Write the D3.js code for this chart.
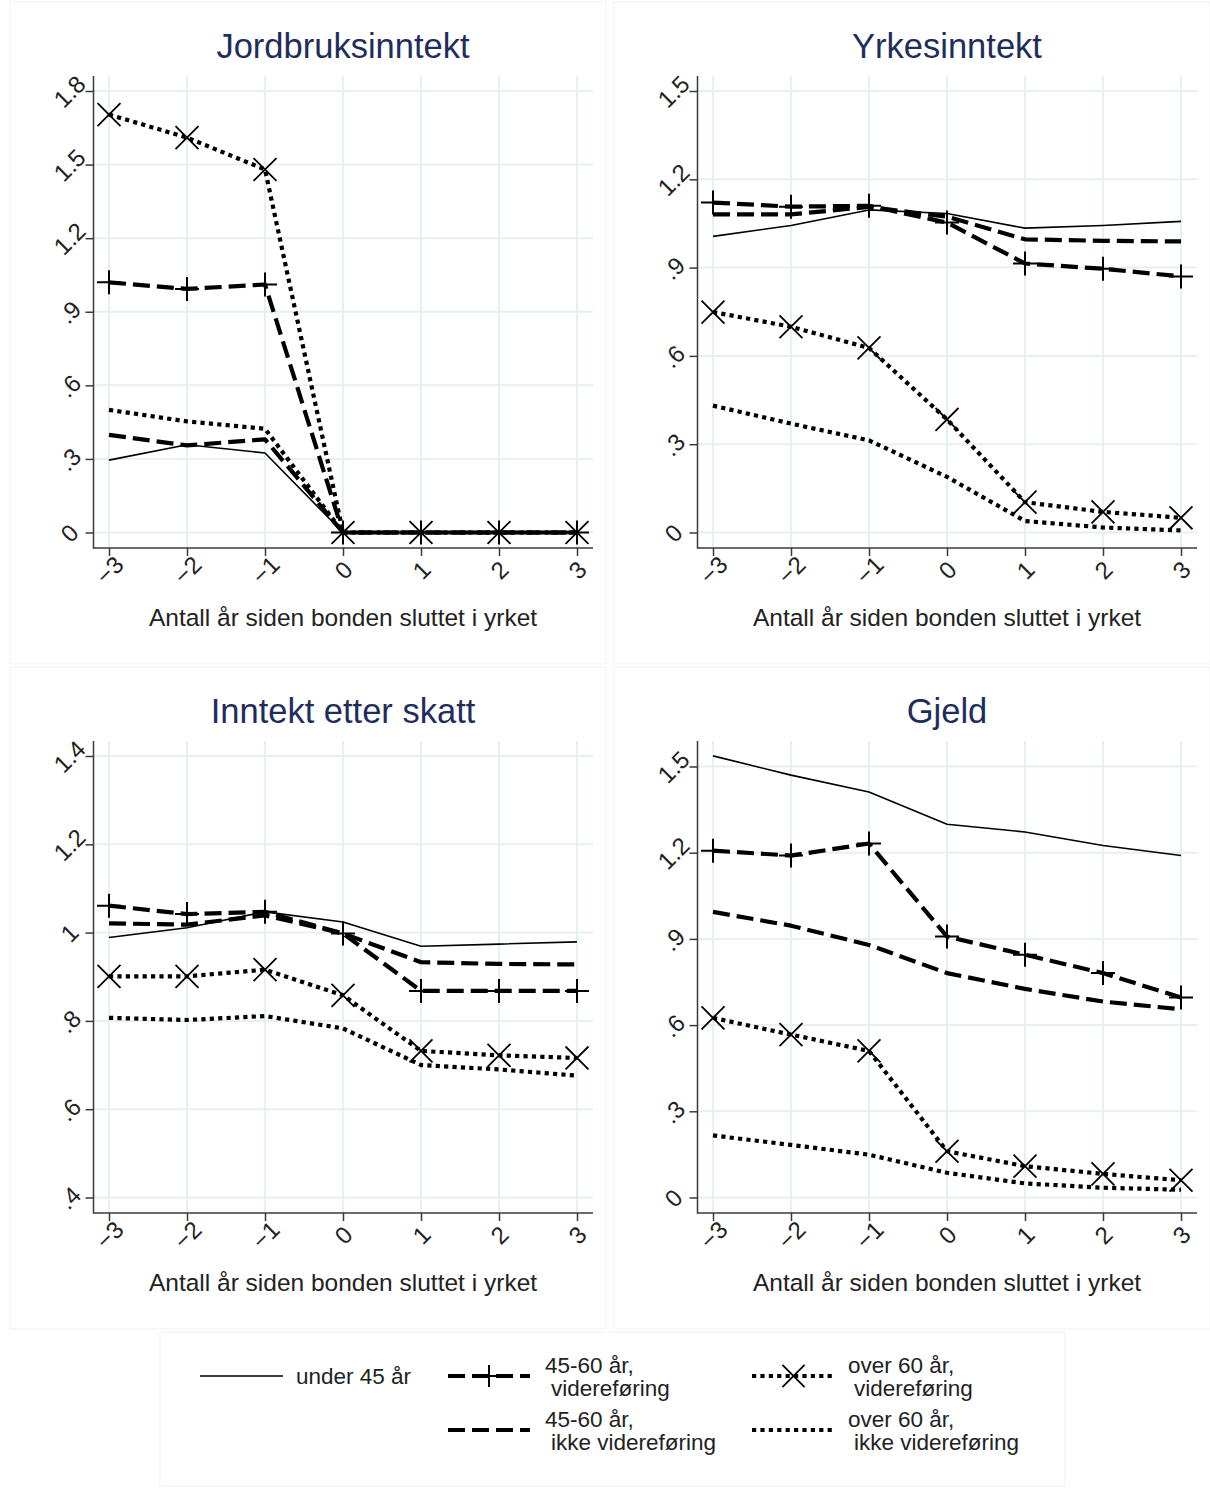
<!DOCTYPE html>
<html>
<head>
<meta charset="utf-8">
<script src="https://cdn.jsdelivr.net/npm/d3@7"></script>
<style>
  body { margin: 0; background: #fff; }
  svg { display: block; font-family: "Liberation Sans", Arial, sans-serif; }
</style>
</head>
<body>
<svg id="chart" width="1210" height="1488"></svg>
<script>
// years relative to when the farmer quit
const years = [-3, -2, -1, 0, 1, 2, 3];
const seriesNames = ["under 45 år", "45-60 år, videreføring", "45-60 år, ikke videreføring",
                     "over 60 år, videreføring", "over 60 år, ikke videreføring"];

// order: under 45, 45-60 vid., 45-60 ikke vid., over 60 vid., over 60 ikke vid.
const jordbruk = [
  [0.295, 0.358, 0.324, 0, 0, 0, 0],
  [1.020, 0.993, 1.011, 0, 0, 0, 0],
  [0.398, 0.355, 0.380, 0, 0, 0, 0],
  [1.704, 1.610, 1.480, 0, 0, 0, 0],
  [0.500, 0.453, 0.423, 0, 0, 0, 0]
];
const yrke = [
  [1.006, 1.043, 1.096, 1.084, 1.034, 1.043, 1.057],
  [1.121, 1.107, 1.110, 1.053, 0.914, 0.896, 0.870],
  [1.081, 1.081, 1.106, 1.073, 0.996, 0.991, 0.989],
  [0.749, 0.699, 0.627, 0.384, 0.103, 0.070, 0.050],
  [0.431, 0.370, 0.313, 0.189, 0.039, 0.017, 0.007]
];
const etterSkatt = [
  [0.989, 1.011, 1.047, 1.024, 0.969, 0.974, 0.979],
  [1.061, 1.042, 1.047, 0.998, 0.868, 0.868, 0.868],
  [1.021, 1.018, 1.039, 0.998, 0.933, 0.929, 0.928],
  [0.901, 0.901, 0.916, 0.858, 0.732, 0.722, 0.716],
  [0.807, 0.802, 0.811, 0.783, 0.700, 0.690, 0.676]
];
const gjeld = [
  [1.537, 1.470, 1.411, 1.299, 1.272, 1.225, 1.190],
  [1.207, 1.190, 1.232, 0.908, 0.845, 0.781, 0.696],
  [0.994, 0.946, 0.879, 0.781, 0.726, 0.682, 0.655],
  [0.625, 0.567, 0.510, 0.161, 0.109, 0.082, 0.060],
  [0.216, 0.183, 0.149, 0.086, 0.049, 0.034, 0.027]
];

const titles = ["Jordbruksinntekt", "Yrkesinntekt", "Inntekt etter skatt", "Gjeld"];
const yTicks1 = [0, 0.3, 0.6, 0.9, 1.2, 1.5, 1.8];
const yTicks2 = [0, 0.3, 0.6, 0.9, 1.2, 1.5];
const yTicks3 = [0.4, 0.6, 0.8, 1, 1.2, 1.4];
const yTicks4 = [0, 0.3, 0.6, 0.9, 1.2, 1.5];
const xTitle = "Antall år siden bonden sluttet i yrket";

const svg = d3.select("#chart");
const navy = "#1f2d5c";
const gridColor = "#e6eff1";
const axisColor = "#3a3a3a";

// line styles per series
const styles = [
  { width: 1.6, dash: null, marker: null },
  { width: 4.2, dash: "17,7", marker: "plus" },
  { width: 4.2, dash: "17,7", marker: null },
  { width: 4.2, dash: "4.2,4.2", marker: "x" },
  { width: 4.2, dash: "4.2,4.2", marker: null }
];

const panels = [
  { title: titles[0], data: jordbruk, ticks: yTicks1, ox: 0, oy: 0, dom: [0, 1.8], top: 91 },
  { title: titles[1], data: yrke, ticks: yTicks2, ox: 604, oy: 0, dom: [0, 1.5], top: 91 },
  { title: titles[2], data: etterSkatt, ticks: yTicks3, ox: 0, oy: 665, dom: [0.4, 1.4], top: 91 },
  { title: titles[3], data: gjeld, ticks: yTicks4, ox: 604, oy: 665, dom: [0, 1.5], top: 101.5 }
];

const fmt = d => d === 0 ? "0" : String(+d.toFixed(2)).replace(/^0\./, ".");

const left = 93.5, right = 593, plotTop = 76, axisY = 548, bottomTick = 532.5;
const x = d3.scaleLinear().domain([-3, 3]).range([109, 577]);

function drawMarker(g, type, cx, cy, s) {
  if (type === "plus") {
    g.append("path")
      .attr("d", `M${cx - s},${cy}H${cx + s}M${cx},${cy - s}V${cy + s}`)
      .attr("stroke", "#000").attr("stroke-width", 2).attr("fill", "none");
  } else if (type === "x") {
    const k = s * 0.85;
    g.append("path")
      .attr("d", `M${cx - k},${cy - k}L${cx + k},${cy + k}M${cx - k},${cy + k}L${cx + k},${cy - k}`)
      .attr("stroke", "#000").attr("stroke-width", 1.8).attr("fill", "none");
  }
}

panels.forEach(p => {
  const g = svg.append("g").attr("transform", `translate(${p.ox},${p.oy})`);
  const y = d3.scaleLinear().domain(p.dom).range([bottomTick, p.top]);

  g.append("rect").attr("x", 10).attr("y", 2).attr("width", 596).attr("height", 662)
    .attr("fill", "#fff").attr("stroke", "#f6f6f6").attr("stroke-width", 1.5);

  g.append("text").attr("x", 343).attr("y", 46).attr("text-anchor", "middle")
    .attr("dominant-baseline", "central").attr("font-size", 34.5).attr("fill", navy)
    .text(p.title);

  // grid
  g.selectAll(".hg").data(p.ticks).enter().append("line")
    .attr("x1", left).attr("x2", right).attr("y1", d => y(d)).attr("y2", d => y(d))
    .attr("stroke", gridColor).attr("stroke-width", 2);
  g.selectAll(".vg").data(years).enter().append("line")
    .attr("x1", d => x(d)).attr("x2", d => x(d)).attr("y1", plotTop).attr("y2", axisY)
    .attr("stroke", gridColor).attr("stroke-width", 2);

  // axes
  const yAxis = g.append("g").attr("transform", `translate(${left},0)`)
    .call(d3.axisLeft(y).tickValues(p.ticks).tickSize(8).tickFormat(fmt));
  yAxis.select(".domain").remove();
  yAxis.selectAll(".tick line").attr("stroke", axisColor).attr("stroke-width", 1.5);
  yAxis.selectAll(".tick text")
    .attr("x", 0).attr("dy", null)
    .attr("text-anchor", "middle").attr("dominant-baseline", "central")
    .attr("transform", "translate(-24,0) rotate(-45)")
    .attr("font-size", 24).attr("fill", "#222").attr("font-family", null);

  const xAxis = g.append("g").attr("transform", `translate(0,${axisY})`)
    .call(d3.axisBottom(x).tickValues(years).tickSize(8).tickFormat(d3.format("d")));
  xAxis.select(".domain").remove();
  xAxis.selectAll(".tick line").attr("stroke", axisColor).attr("stroke-width", 1.5);
  xAxis.selectAll(".tick text")
    .attr("y", 0).attr("dy", null)
    .attr("text-anchor", "middle").attr("dominant-baseline", "central")
    .attr("transform", "translate(0,22) rotate(-45)")
    .attr("font-size", 24).attr("fill", "#222").attr("font-family", null);

  g.append("line").attr("x1", left).attr("x2", left).attr("y1", plotTop).attr("y2", axisY + 0.75)
    .attr("stroke", axisColor).attr("stroke-width", 1.5);
  g.append("line").attr("x1", left).attr("x2", right).attr("y1", axisY).attr("y2", axisY)
    .attr("stroke", axisColor).attr("stroke-width", 1.5);

  g.append("text").attr("x", 343).attr("y", 617).attr("text-anchor", "middle")
    .attr("dominant-baseline", "central").attr("font-size", 24.5).attr("fill", "#222")
    .text(xTitle);

  // series
  const line = d3.line().x((d, i) => x(years[i])).y(d => y(d));
  p.data.forEach((vals, si) => {
    const st = styles[si];
    g.append("path").attr("d", line(vals))
      .attr("fill", "none").attr("stroke", "#000")
      .attr("stroke-width", st.width)
      .attr("stroke-dasharray", st.dash)
      .attr("stroke-linejoin", "round");
  });
  p.data.forEach((vals, si) => {
    const st = styles[si];
    if (!st.marker) return;
    vals.forEach((v, i) => drawMarker(g, st.marker, x(years[i]), y(v), st.marker === "x" ? 13.5 : 12));
  });
});

// legend
const lg = svg.append("g");
lg.append("rect").attr("x", 160).attr("y", 1332).attr("width", 905).attr("height", 154)
  .attr("fill", "#fff").attr("stroke", "#f6f6f6").attr("stroke-width", 1.5);

const legendItems = [
  { si: 0, x0: 200, x1: 283, y: 1376, tx: 296, lines: ["under 45 år"] },
  { si: 1, x0: 448, x1: 530, y: 1376, tx: 545, lines: ["45-60 år,", "videreføring"] },
  { si: 2, x0: 448, x1: 530, y: 1430, tx: 545, lines: ["45-60 år,", "ikke videreføring"] },
  { si: 3, x0: 752, x1: 835, y: 1376, tx: 848, lines: ["over 60 år,", "videreføring"] },
  { si: 4, x0: 752, x1: 835, y: 1430, tx: 848, lines: ["over 60 år,", "ikke videreføring"] }
];
legendItems.forEach(it => {
  const st = styles[it.si];
  lg.append("line").attr("x1", it.x0).attr("x2", it.x1).attr("y1", it.y).attr("y2", it.y)
    .attr("stroke", "#000").attr("stroke-width", st.width).attr("stroke-dasharray", st.dash);
  if (st.marker) drawMarker(lg, st.marker, (it.x0 + it.x1) / 2, it.y, st.marker === "x" ? 13 : 11);
  if (it.lines.length === 1) {
    lg.append("text").attr("x", it.tx).attr("y", it.y).attr("dominant-baseline", "central")
      .attr("font-size", 22.5).attr("fill", "#222").text(it.lines[0]);
  } else {
    lg.append("text").attr("x", it.tx).attr("y", it.y - 11).attr("dominant-baseline", "central")
      .attr("font-size", 22.5).attr("fill", "#222").text(it.lines[0]);
    lg.append("text").attr("x", it.tx + 6).attr("y", it.y + 12).attr("dominant-baseline", "central")
      .attr("font-size", 22.5).attr("fill", "#222").text(it.lines[1]);
  }
});
</script>
</body>
</html>
